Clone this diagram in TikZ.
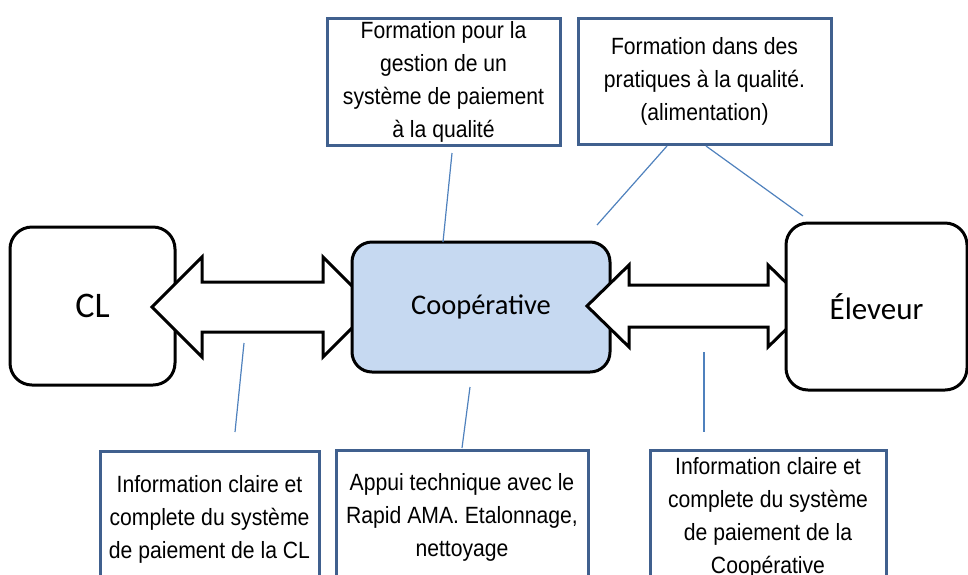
\documentclass[tikz,border=0pt]{standalone}
\usepackage{fontspec}
\newfontfamily\boxfont[FakeStretch=0.9]{Liberation Sans}
\newfontfamily\calfont{Carlito}
\definecolor{coopfill}{RGB}{198,217,241}
\definecolor{boxline}{RGB}{64,96,142}
\definecolor{thinline}{RGB}{79,129,189}

\begin{document}
\begin{tikzpicture}[x=1pt,y=-1pt,
        actor/.style={draw=black,line width=3pt,fill=white,rounded corners=22pt,font=\calfont},
        infobox/.style={draw=boxline,line width=3pt,fill=white,align=center,inner sep=0pt,
            font=\boxfont\fontsize{23.5}{33}\selectfont},
        bigarrow/.style={draw=black,line width=3pt,fill=white,line join=miter},
        link/.style={draw=thinline,line width=1.2pt}]
        \useasboundingbox (0,0) rectangle (968,574);
        \clip (0,0) rectangle (968,574);

        % acteurs et fleches
        \node[actor,minimum width=165,minimum height=158,font=\calfont\fontsize{36}{40}\selectfont] (cl) at (92.5,306) {CL};
        \draw[bigarrow](152,307)--(202,257)--(202,282)--(323,282)--(323,257)--(373,307)
            --(323,357)--(323,332)--(202,332)--(202,357)--cycle;
        \node[actor,fill=coopfill,rounded corners=20pt,minimum width=258,minimum height=130,
            font=\calfont\fontsize{28.5}{32}\selectfont] (coop) at (481,307) {Coopérative};
        \draw[bigarrow](587,306)--(629,265)--(629,285)--(768,285)--(768,265)--(810,306)
            --(768,347)--(768,327)--(629,327)--(629,347)--cycle;
        \node[actor,minimum width=181,minimum height=167,font=\calfont\fontsize{31}{34}\selectfont] (elev) at (876.5,306.5) {Éleveur};

        % boites du haut
        \node[infobox,minimum width=233,minimum height=127] (form1) at (443.5,81.5)
            {Formation pour la\\gestion de un\\système de paiement\\à la qualité};
        \node[infobox,minimum width=253,minimum height=126] (form2) at (704.5,81)
            {Formation dans des\\pratiques à la qualité.\\(alimentation)};

        % boites du bas
        \node[infobox,minimum width=219,minimum height=135] (info1) at (209.5,519)
            {Information claire et\\complete du système\\de paiement de la CL};
        \node[infobox,minimum width=252,minimum height=135] (appui) at (462,517.5)
            {Appui technique avec le\\Rapid AMA. Etalonnage,\\nettoyage};
        \node[infobox,minimum width=236,minimum height=135] (info2) at (768,517.5)
            {Information claire et\\complete du système\\de paiement de la\\Coopérative};

        % traits de rappel
        \coordinate (f1a) at (452,153);
        \coordinate (f1b) at (443,242);
        \coordinate (f2a) at (667,146);
        \coordinate (f2b) at (597,225);
        \coordinate (f3a) at (706,146);
        \coordinate (f3b) at (803,216);
        \coordinate (i1a) at (244,343);
        \coordinate (i1b) at (235,432);
        \coordinate (apa) at (470,387);
        \coordinate (apb) at (462,448);
        \coordinate (i2a) at (704,352);
        \coordinate (i2b) at (704,432);
        \draw[link](f1a)--(f1b);
        \draw[link](f2a)--(f2b);
        \draw[link](f3a)--(f3b);
        \draw[link](i1a)--(i1b);
        \draw[link](apa)--(apb);
        \draw[link](i2a)--(i2b);
    \end{tikzpicture}
\end{document}
